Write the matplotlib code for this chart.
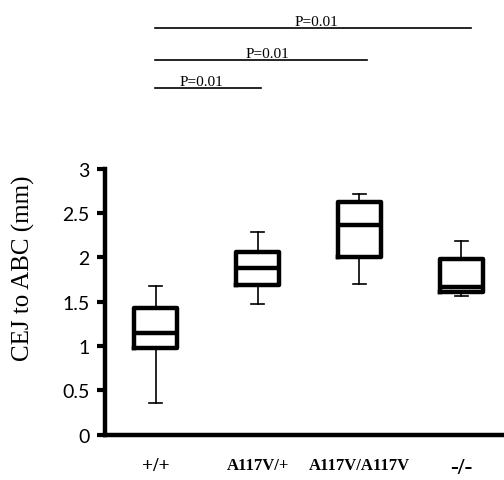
import matplotlib
matplotlib.use("Agg")
from matplotlib import pyplot as plt

groups = ["+/+", "A117V/+", "A117V/A117V", "-/-"]
whislo = [0.36, 1.48, 1.70, 1.57]
q1 = [0.98, 1.69, 2.00, 1.61]
med = [1.15, 1.88, 2.37, 1.67]
q3 = [1.43, 2.06, 2.63, 1.98]
whishi = [1.68, 2.29, 2.72, 2.18]

# significance brackets: (start group, end group, label)
sig_pairs = [(1, 2, "P=0.01"), (1, 3, "P=0.01"), (1, 4, "P=0.01")]

fig = plt.figure(figsize=(5.04, 4.81), dpi=100)
ax = fig.add_axes([0.208, 0.094, 0.792, 0.553])

stats = []
for i, g in enumerate(groups):
    stats.append({"label": g, "whislo": whislo[i], "q1": q1[i], "med": med[i],
                  "q3": q3[i], "whishi": whishi[i], "fliers": []})

box_kw = {"color": "black", "linewidth": 3.2, "solid_joinstyle": "round"}
ax.bxp(stats, positions=[1, 2, 3, 4], widths=0.42, showfliers=False,
       boxprops=box_kw,
       medianprops={"color": "black", "linewidth": 3.2},
       whiskerprops={"color": "black", "linewidth": 1.2},
       capprops={"color": "black", "linewidth": 1.2},
       capwidths=0.13)

ax.set_xlim(0.5, 4.42)
ax.set_ylim(0, 3)
ax.set_yticks([0, 0.5, 1, 1.5, 2, 2.5, 3])
ax.set_yticklabels(["0", "0.5", "1", "1.5", "2", "2.5", "3"],
                   family="Lato", fontsize=14)
ax.set_xticks([1, 2, 3, 4])
ax.set_xticklabels(groups, family="Liberation Serif", fontweight="bold")
for lab, fs in zip(ax.get_xticklabels(), [14, 12, 12, 17]):
    lab.set_fontsize(fs)
ax.tick_params(axis="x", length=0, pad=16)
ax.tick_params(axis="y", length=6, width=3, direction="out", pad=5)

for s in ("top", "right"):
    ax.spines[s].set_visible(False)
ax.spines["left"].set_linewidth(3.2)
ax.spines["bottom"].set_linewidth(3.2)

ax.set_ylabel("CEJ to ABC (mm)", family="Liberation Serif", fontsize=18)
ax.yaxis.set_label_coords(-0.175, 0.63)

# P-value lines above the plot
line_y = [3.91, 4.23, 4.59]
line_end = [2.03, 3.07, 4.10]
text_x = [1.45, 2.1, 2.58]
for (a, b, lab), y, xe, tx in zip(sig_pairs, line_y, line_end, text_x):
    ax.plot([a - 0.01, xe], [y, y], color="black", lw=1.2, clip_on=False)
    ax.text(tx, y + 0.035, lab, ha="center", va="baseline",
            family="Liberation Serif", fontsize=11, clip_on=False)

fig.savefig("out.png", dpi=100)
